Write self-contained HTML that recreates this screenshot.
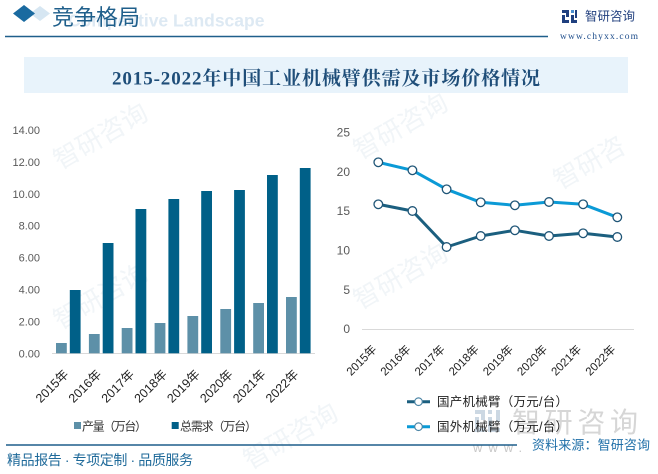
<!DOCTYPE html>
<html><head><meta charset="utf-8"><style>
html,body{margin:0;padding:0;background:#fff;}
svg{display:block;}
text{font-family:"Liberation Sans","Noto Sans CJK SC",sans-serif;}
</style></head><body>
<svg width="658" height="474" viewBox="0 0 658 474" xmlns="http://www.w3.org/2000/svg">
<rect width="658" height="474" fill="#fff"/>
<!-- faint watermarks -->
<g fill="#f1f5f8" font-size="26">
<text x="60" y="170" transform="rotate(-30 60 170)">智研咨询</text>
<text x="60" y="330" transform="rotate(-30 60 330)">智研咨询</text>
<text x="250" y="470" transform="rotate(-30 250 470)">智研咨询</text>
<text x="360" y="160" transform="rotate(-30 360 160)">智研咨询</text>
<text x="360" y="310" transform="rotate(-30 360 310)">智研咨询</text>
<text x="560" y="190" transform="rotate(-30 560 190)">智研咨</text>
</g>
<!-- header -->
<polygon points="30,13.5 40,6 50,13.5 40,21" fill="#d6e6f2"/>
<polygon points="13,13.5 24,5 35,13.5 24,22" fill="#1a6aa0"/>
<text x="68" y="26.5" font-size="17.5" font-weight="bold" fill="#dde9f3">Competitive Landscape</text>
<text x="52" y="25" font-size="22" fill="#1f5f8b" textLength="88">竞争格局</text>
<line x1="5" y1="36.5" x2="548" y2="36.5" stroke="#1f5f8b" stroke-width="1.5"/>
<!-- logo -->
<g fill="#1f3f7f">
<rect x="562" y="10" width="7" height="3"/><rect x="566" y="10" width="3" height="7"/><rect x="562" y="15" width="3" height="8"/><rect x="562" y="20" width="7" height="3"/>
<rect x="571" y="10" width="3" height="3" fill="#4a8fd0"/><rect x="571" y="15" width="3" height="8"/><rect x="571" y="20" width="6" height="3"/><rect x="575" y="10" width="2" height="8"/>
</g>
<text x="585" y="20.5" font-size="12.5" fill="#213f7e" textLength="50">智研咨询</text>
<text x="560" y="39" font-size="9.5" fill="#1f4e8c" style="font-family:'Liberation Serif',serif" textLength="78">www.chyxx.com</text>
<!-- title bar -->
<rect x="24" y="57" width="604" height="36" fill="#e8f3fb"/>
<text x="326" y="84.5" text-anchor="middle" font-size="19" font-weight="bold" fill="#1f4e79" style="font-family:'Liberation Serif','Noto Serif CJK SC',serif" textLength="428">2015-2022年中国工业机械臂供需及市场价格情况</text>

<!-- bar chart -->
<g font-size="11" fill="#595959" text-anchor="end">
<text x="40" y="357.3">0.00</text>
<text x="40" y="325.4">2.00</text>
<text x="40" y="293.5">4.00</text>
<text x="40" y="261.6">6.00</text>
<text x="40" y="229.7">8.00</text>
<text x="40" y="197.8">10.00</text>
<text x="40" y="165.9">12.00</text>
<text x="40" y="134">14.00</text>
</g>
<line x1="52" y1="353.5" x2="315" y2="353.5" stroke="#d9d9d9" stroke-width="1"/>
<g fill="#5d90a8">
<rect x="56" y="343" width="10.8" height="10.3"/>
<rect x="88.9" y="334" width="10.8" height="19.3"/>
<rect x="121.7" y="328" width="10.8" height="25.3"/>
<rect x="154.6" y="323" width="10.8" height="30.3"/>
<rect x="187.4" y="316" width="10.8" height="37.3"/>
<rect x="220.3" y="309" width="10.8" height="44.3"/>
<rect x="253.2" y="303" width="10.8" height="50.3"/>
<rect x="286" y="297" width="10.8" height="56.3"/>
</g>
<g fill="#006088">
<rect x="69.8" y="290" width="10.8" height="63.3"/>
<rect x="102.7" y="243" width="10.8" height="110.3"/>
<rect x="135.5" y="209" width="10.8" height="144.3"/>
<rect x="168.4" y="199" width="10.8" height="154.3"/>
<rect x="201.2" y="191" width="10.8" height="162.3"/>
<rect x="234.1" y="190" width="10.8" height="163.3"/>
<rect x="267" y="175" width="10.8" height="178.3"/>
<rect x="299.8" y="168" width="10.8" height="185.3"/>
</g>
<g font-size="12.5" fill="#222" text-anchor="end">
<text x="69.3" y="375" transform="rotate(-45 69.3 375)">2015年</text>
<text x="102.2" y="375" transform="rotate(-45 102.2 375)">2016年</text>
<text x="135" y="375" transform="rotate(-45 135 375)">2017年</text>
<text x="167.9" y="375" transform="rotate(-45 167.9 375)">2018年</text>
<text x="200.7" y="375" transform="rotate(-45 200.7 375)">2019年</text>
<text x="233.6" y="375" transform="rotate(-45 233.6 375)">2020年</text>
<text x="266.5" y="375" transform="rotate(-45 266.5 375)">2021年</text>
<text x="299.3" y="375" transform="rotate(-45 299.3 375)">2022年</text>
</g>
<rect x="74" y="422" width="7" height="7" fill="#5d90a8"/>
<text x="82" y="430.5" font-size="12" fill="#333" textLength="65">产量（万台）</text>
<rect x="171.7" y="422" width="7" height="7" fill="#006088"/>
<text x="180" y="430.5" font-size="12" fill="#333" textLength="77">总需求（万台）</text>

<!-- line chart -->
<g font-size="12" fill="#595959" text-anchor="end">
<text x="350" y="333.2">0</text>
<text x="350" y="293.9">5</text>
<text x="350" y="254.5">10</text>
<text x="350" y="215.2">15</text>
<text x="350" y="175.8">20</text>
<text x="350" y="136.5">25</text>
</g>
<line x1="362" y1="329.5" x2="634" y2="329.5" stroke="#d9d9d9" stroke-width="1"/>
<polyline fill="none" stroke="#0b9ad6" stroke-width="3" stroke-linejoin="round" points="378.3,162.3 412.4,170.3 446.6,189.3 480.7,202.3 514.9,205.3 549,202 583.1,204.3 617.3,217.3"/>
<polyline fill="none" stroke="#1b5f7f" stroke-width="3" stroke-linejoin="round" points="378.3,204.3 412.4,211 446.6,247 480.7,236 514.9,230.3 549,236 583.1,233.3 617.3,237"/>
<g fill="#fff" stroke="#1f5577" stroke-width="1.3">
<circle cx="378.3" cy="162.3" r="4.3"/><circle cx="412.4" cy="170.3" r="4.3"/><circle cx="446.6" cy="189.3" r="4.3"/><circle cx="480.7" cy="202.3" r="4.3"/><circle cx="514.9" cy="205.3" r="4.3"/><circle cx="549" cy="202" r="4.3"/><circle cx="583.1" cy="204.3" r="4.3"/><circle cx="617.3" cy="217.3" r="4.3"/>
<circle cx="378.3" cy="204.3" r="4.3"/><circle cx="412.4" cy="211" r="4.3"/><circle cx="446.6" cy="247" r="4.3"/><circle cx="480.7" cy="236" r="4.3"/><circle cx="514.9" cy="230.3" r="4.3"/><circle cx="549" cy="236" r="4.3"/><circle cx="583.1" cy="233.3" r="4.3"/><circle cx="617.3" cy="237" r="4.3"/>
</g>
<g font-size="11.5" fill="#222" text-anchor="end">
<text x="377.3" y="350" transform="rotate(-45 377.3 350)">2015年</text>
<text x="411.4" y="350" transform="rotate(-45 411.4 350)">2016年</text>
<text x="445.6" y="350" transform="rotate(-45 445.6 350)">2017年</text>
<text x="479.7" y="350" transform="rotate(-45 479.7 350)">2018年</text>
<text x="513.9" y="350" transform="rotate(-45 513.9 350)">2019年</text>
<text x="548" y="350" transform="rotate(-45 548 350)">2020年</text>
<text x="582.1" y="350" transform="rotate(-45 582.1 350)">2021年</text>
<text x="616.3" y="350" transform="rotate(-45 616.3 350)">2022年</text>
</g>
<!-- bottom-right watermark -->
<g fill="#ccd8e3">
<rect x="475" y="410" width="10" height="4"/><rect x="481" y="410" width="4" height="10"/><rect x="475" y="417" width="4" height="15"/><rect x="475" y="428" width="10" height="4"/>
<rect x="488" y="410" width="4" height="4"/><rect x="488" y="417" width="4" height="15"/><rect x="488" y="428" width="12" height="4"/><rect x="496" y="410" width="4" height="12"/>
</g>
<text x="512" y="432" font-size="28" fill="#d6d6d6" textLength="126">智研咨询</text>
<text x="473" y="452" font-size="13" fill="#c8c8c8" letter-spacing="6">www.</text>
<!-- line legend -->
<line x1="407" y1="401.7" x2="430" y2="401.7" stroke="#1b5f7f" stroke-width="3"/>
<circle cx="418.5" cy="401.7" r="3.8" fill="#fff" stroke="#4d86a6" stroke-width="1.2"/>
<text x="437" y="406" font-size="12.5" fill="#222" textLength="131">国产机械臂（万元/台）</text>
<line x1="407" y1="426.7" x2="430" y2="426.7" stroke="#0b9ad6" stroke-width="3"/>
<circle cx="418.5" cy="426.7" r="3.8" fill="#fff" stroke="#4d86a6" stroke-width="1.2"/>
<text x="437" y="431" font-size="12.5" fill="#222" textLength="131">国外机械臂（万元/台）</text>

<!-- footer -->
<line x1="6" y1="445" x2="517" y2="445" stroke="#1f5f8b" stroke-width="1.5"/>
<text x="532" y="449.5" font-size="13" fill="#1f6fa8" textLength="118">资料来源：智研咨询</text>
<text x="7" y="465" font-size="14" fill="#1f6a9a" textLength="186">精品报告 · 专项定制 · 品质服务</text>
</svg>
</body></html>
